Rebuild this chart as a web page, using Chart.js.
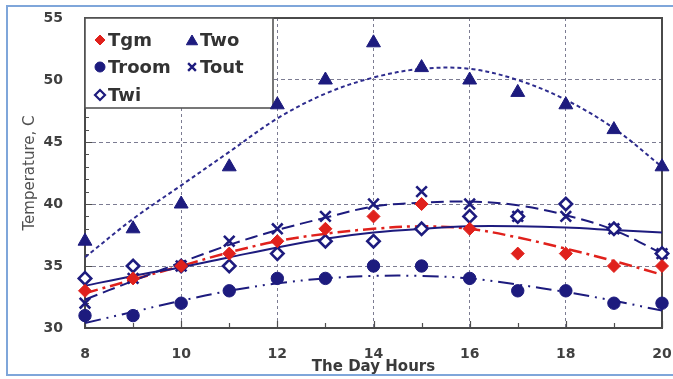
<!DOCTYPE html>
<html>
<head>
<meta charset="utf-8">
<script src="https://cdn.jsdelivr.net/npm/chart.js@4/dist/chart.umd.min.js"></script>
<style>
  html, body { margin: 0; padding: 0; background: #ffffff; overflow: hidden; }
  #c { display: block; }
</style>
</head>
<body>
<canvas id="c" width="673" height="379"></canvas>
<script>
// Hours of the day
const hours = [8, 9, 10, 11, 12, 13, 14, 15, 16, 17, 18, 19, 20];

// Measured temperatures (C)
const tgm   = [33, 34, 35, 36, 37, 38, 39, 40, 38, 36, 36, 35, 35];
const troom = [31, 31, 32, 33, 34, 34, 35, 35, 34, 33, 33, 32, 32];
const twi   = [34, 35, 35, 35, 36, 37, 37, 38, 39, 39, 40, 38, 36];
const two   = [37, 38, 40, 43, 48, 50, 53, 51, 50, 49, 48, 46, 43];
const tout  = [32, 34, 35, 37, 38, 39, 40, 41, 40, 39, 39, 38, 36];

// Trend curves at each hour
const tgmTrend   = [32.8, 33.9, 35.0, 36.1, 37.0, 37.6, 38.0, 38.2, 38.0, 37.3, 36.4, 35.4, 34.3];
const troomTrend = [30.4, 31.3, 32.2, 33.0, 33.6, 34.0, 34.2, 34.2, 34.0, 33.5, 32.9, 32.2, 31.4];
const twiTrend   = [33.4, 34.2, 34.9, 35.7, 36.5, 37.2, 37.7, 38.0, 38.2, 38.2, 38.1, 37.9, 37.7];
const twoTrend   = [35.7, 38.8, 41.5, 44.2, 46.9, 48.9, 50.2, 50.9, 50.9, 50.0, 48.4, 46.1, 43.0];
const toutTrend  = [32.3, 33.8, 35.3, 36.7, 37.9, 38.9, 39.8, 40.1, 40.2, 39.9, 39.1, 37.9, 36.0];

// Axis tick labels
const xTickLabels = [8, 10, 12, 14, 16, 18, 20];
const yTickLabels = [30, 35, 40, 45, 50, 55];

const NAVY = '#1d1b7e';
const RED = '#e0211c';
const GRID = '#7c7c92';
const FONT = "'DejaVu Sans', sans-serif";

const pts = arr => hours.map((h, i) => ({ x: h, y: arr[i] }));

function markerSet(label, data, style) {
  return Object.assign({
    label, data: pts(data), showLine: false, clip: false, order: 1
  }, style);
}
function trendSet(label, data, style) {
  return Object.assign({
    label, data: pts(data), showLine: true, pointRadius: 0, pointHoverRadius: 0,
    tension: 0.35, fill: false, order: 2
  }, style);
}

const datasets = [
  trendSet('Two trend', twoTrend,   { borderColor: '#2e2c8e', borderWidth: 2, borderDash: [4, 3] }),
  trendSet('Tout trend', toutTrend, { borderColor: NAVY, borderWidth: 2, borderDash: [13, 6] }),
  trendSet('Twi trend', twiTrend,   { borderColor: NAVY, borderWidth: 2 }),
  trendSet('Tgm trend', tgmTrend,   { borderColor: RED, borderWidth: 2.5, borderDash: [13, 5, 3, 5] }),
  trendSet('Troom trend', troomTrend, { borderColor: NAVY, borderWidth: 2, borderDash: [16, 6, 2, 6, 2, 6] }),
  markerSet('Tgm', tgm,     { pointStyle: 'rectRot', pointRadius: 6.5, backgroundColor: RED, borderColor: RED, borderWidth: 1 }),
  markerSet('Troom', troom, { pointStyle: 'circle', pointRadius: 6.2, backgroundColor: NAVY, borderColor: NAVY, borderWidth: 1 }),
  markerSet('Twi', twi,     { pointStyle: 'rectRot', pointRadius: 6.2, backgroundColor: '#ffffff', borderColor: NAVY, borderWidth: 2.6 }),
  markerSet('Two', two,     { pointStyle: 'triangle', pointRadius: 8, backgroundColor: NAVY, borderColor: NAVY, borderWidth: 1 }),
  markerSet('Tout', tout,   { pointStyle: 'crossRot', pointRadius: 7.5, backgroundColor: NAVY, borderColor: NAVY, borderWidth: 2.6 })
];

// Outer light-blue frame, plot frame, inward minor ticks and the boxed two-column legend
const framePlugin = {
  id: 'frameAndKey',
  beforeDraw(chart) {
    const { ctx } = chart;
    ctx.save();
    ctx.fillStyle = '#ffffff';
    ctx.fillRect(0, 0, chart.width, chart.height);
    ctx.strokeStyle = '#7fa6da';
    ctx.lineWidth = 2;
    ctx.beginPath();
    ctx.moveTo(chart.width, 6);
    ctx.lineTo(7, 6);
    ctx.lineTo(7, 375);
    ctx.lineTo(chart.width, 375);
    ctx.stroke();
    ctx.restore();
  },
  beforeDatasetsDraw(chart) {
    const { ctx, chartArea: a, scales: { x, y } } = chart;
    ctx.save();

    ctx.strokeStyle = '#4f4f4f';
    ctx.lineWidth = 1.2;
    ctx.beginPath();
    for (let v = y.min; v <= y.max; v += 1) {
      const py = Math.round(y.getPixelForValue(v)) + 0.5;
      const len = v % 5 === 0 ? 7 : 4;
      ctx.moveTo(a.left, py); ctx.lineTo(a.left + len, py);
    }
    for (let v = x.min; v <= x.max; v += 1) {
      const px = Math.round(x.getPixelForValue(v)) + 0.5;
      ctx.moveTo(px, a.bottom); ctx.lineTo(px, a.bottom - (v % 2 ? 5 : 7));
    }
    ctx.stroke();

    ctx.lineWidth = 2;
    ctx.strokeStyle = '#4a4a4a';
    ctx.strokeRect(a.left, a.top, a.right - a.left, a.bottom - a.top);

    // legend box
    const bx = a.left, by = a.top, bw = 188, bh = 90;
    ctx.fillStyle = '#ffffff';
    ctx.fillRect(bx, by, bw, bh);
    ctx.lineWidth = 1.6;
    ctx.strokeStyle = '#555555';
    ctx.strokeRect(bx, by, bw, bh);

    const byLabel = l => chart.data.datasets.find(d => d.label === l);
    const layout = [
      ['Tgm', 0, 0], ['Two', 1, 0],
      ['Troom', 0, 1], ['Tout', 1, 1],
      ['Twi', 0, 2]
    ];
    const colX = [bx + 15, bx + 107];
    const rowY = [by + 22, by + 49, by + 77];
    ctx.font = 'bold 18px ' + FONT;
    ctx.textBaseline = 'middle';
    ctx.textAlign = 'left';
    layout.forEach(([label, c, r]) => {
      const ds = byLabel(label);
      const mx = colX[c], my = rowY[r];
      const rad = ds.pointStyle === 'triangle' ? 6.5 : (ds.pointStyle === 'crossRot' ? 5.5 : 5);
      ctx.save();
      ctx.fillStyle = ds.backgroundColor;
      ctx.strokeStyle = ds.borderColor;
      ctx.lineWidth = ds.pointStyle === 'rectRot' && ds.backgroundColor === '#ffffff' ? 2.2 : (ds.pointStyle === 'crossRot' ? 2.4 : 1);
      Chart.helpers.drawPoint(ctx, {
        pointStyle: ds.pointStyle, radius: rad, rotation: 0, borderWidth: ctx.lineWidth
      }, mx, ds.pointStyle === 'triangle' ? my + 1.5 : my);
      ctx.restore();
      ctx.fillStyle = '#333333';
      ctx.fillText(label, mx + 8, my + 1);
    });
    ctx.restore();
  }
};

new Chart(document.getElementById('c'), {
  type: 'scatter',
  data: { datasets },
  plugins: [framePlugin],
  options: {
    responsive: false,
    animation: false,
    devicePixelRatio: 1,
    layout: { padding: { left: 0, right: 11, top: 18, bottom: 0 } },
    plugins: { legend: { display: false }, tooltip: { enabled: false } },
    scales: {
      x: {
        type: 'linear', min: 8, max: 20,
        afterBuildTicks: s => { s.ticks = xTickLabels.map(v => ({ value: v })); },
        afterFit: s => { s.height = 51; s.paddingLeft = 0; s.paddingRight = 0; },
        ticks: {
          autoSkip: false, padding: 18, color: '#404040',
          font: { family: FONT, size: 14, weight: 'bold' },
          maxRotation: 0
        },
        grid: {
          drawTicks: false, lineWidth: 1,
          color: c => (c.tick && c.tick.value > 8 && c.tick.value < 20) ? GRID : 'rgba(0,0,0,0)'
        },
        border: { display: false, dash: [3, 3] },
        title: {
          display: true, text: 'The Day Hours', color: '#3a3a3a',
          font: { family: FONT, size: 15, weight: 'bold' },
          padding: { top: 0, bottom: 3 }
        }
      },
      y: {
        type: 'linear', min: 30, max: 55,
        afterBuildTicks: s => { s.ticks = yTickLabels.map(v => ({ value: v })); },
        afterFit: s => { s.width = 85; s.paddingTop = 0; s.paddingBottom = 0; },
        ticks: {
          padding: 22, color: '#404040',
          font: { family: FONT, size: 14, weight: 'bold' }
        },
        grid: {
          drawTicks: false, lineWidth: 1,
          color: c => (c.tick && c.tick.value > 30 && c.tick.value < 55) ? GRID : 'rgba(0,0,0,0)'
        },
        border: { display: false, dash: [4, 3] },
        title: {
          display: true, text: 'Temperature, C', color: '#505050',
          font: { family: FONT, size: 15 },
          padding: { top: 21, bottom: 0 }
        }
      }
    }
  }
});
</script>
</body>
</html>
